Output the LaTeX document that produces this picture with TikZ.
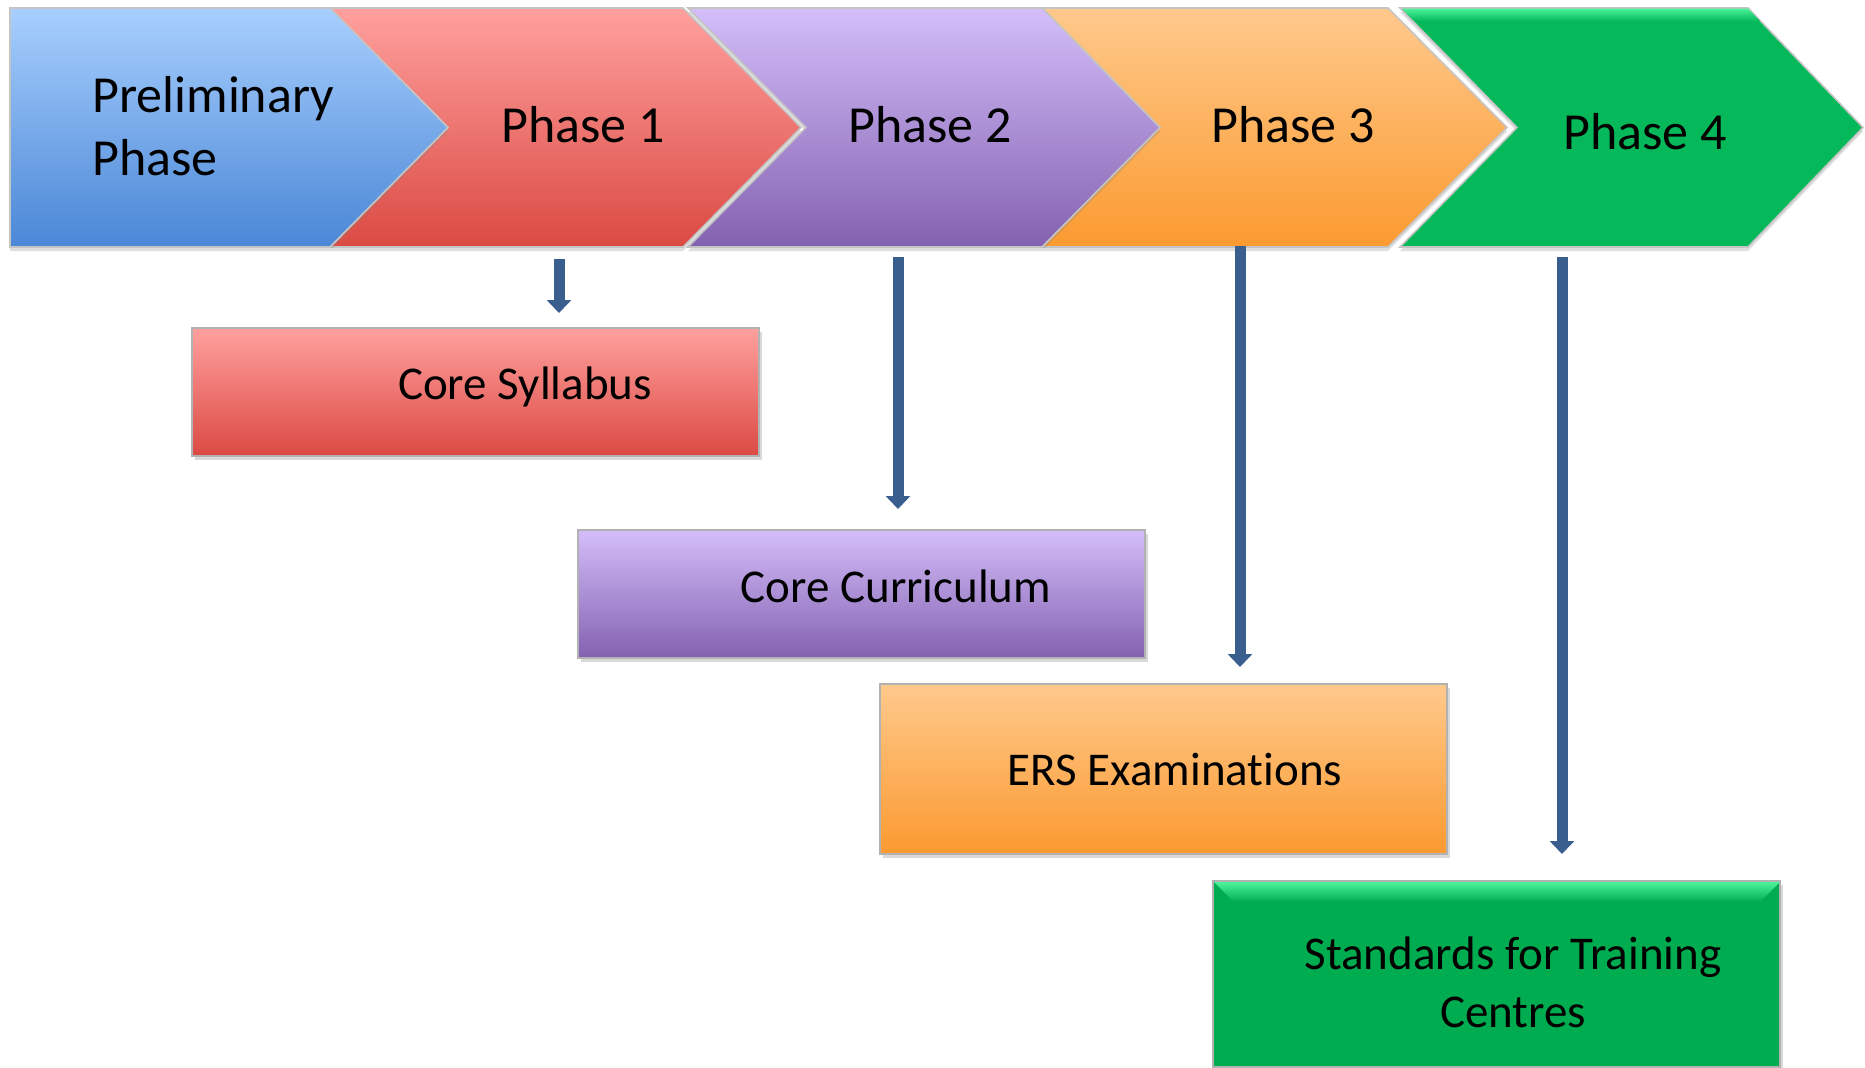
\documentclass[tikz,border=0pt]{standalone}
\usepackage{fontspec}
\setmainfont{Carlito}[Ligatures=NoCommon]
\usetikzlibrary{arrows.meta,shadows}
\definecolor{bluT}{HTML}{A8CFFE}
\definecolor{bluB}{HTML}{4A87D6}
\definecolor{redT}{HTML}{FFA09E}
\definecolor{redB}{HTML}{DB4A43}
\definecolor{purT}{HTML}{D4BEFA}
\definecolor{purB}{HTML}{8361B0}
\definecolor{oraT}{HTML}{FFC98C}
\definecolor{oraB}{HTML}{FB9A30}
\definecolor{grn}{HTML}{05B95A}
\definecolor{grnL}{HTML}{4CF29A}
\definecolor{grnB}{HTML}{00AC50}
\definecolor{arr}{HTML}{3A5F8E}
\definecolor{edge}{HTML}{C4C4C4}
\begin{document}
\begin{tikzpicture}[x=0.5pt,y=-0.5pt,
  chev/.style={draw=edge, line width=0.8pt,
    drop shadow={shadow xshift=0pt, shadow yshift=-2pt, opacity=0.25}},
  box/.style={draw=gray!60, line width=0.6pt, minimum width=283.5pt,
    inner sep=0pt, drop shadow={shadow xshift=1.5pt, shadow yshift=-2pt, opacity=0.3}},
  phtext/.style={font=\fontsize{26}{31.5}\selectfont, inner sep=0pt, text=black},
  bxtext/.style={font=\fontsize{23.5}{29}\selectfont, inner sep=0pt, text=black, align=center},
  conn/.style={draw=arr, line width=5.5pt, -{Triangle[width=12pt,length=6.5pt]}}]
\useasboundingbox (0,0) rectangle (1865,1067);

% chevrons
\path[chev, fill=grn] (1400,8) -- (1748,8) -- (1863,127.5) -- (1748,247) -- (1400,247) -- (1517,127.5) -- cycle;
\shade[top color=grnL, bottom color=grn] (1402,8.5) -- (1748,8.5) -- (1760,21) -- (1415,21) -- cycle;
\path[chev, top color=oraT, bottom color=oraB] (1042,8) -- (1388,8) -- (1507,127.5) -- (1388,247) -- (1042,247) -- (1160,127.5) -- cycle;
\path[chev, top color=purT, bottom color=purB] (688,8) -- (1042,8) -- (1160,127.5) -- (1042,247) -- (688,247) -- (806,127.5) -- cycle;
\path[chev, top color=redT, bottom color=redB] (330,8) -- (683,8) -- (801,127.5) -- (683,247) -- (330,247) -- (448,127.5) -- cycle;
\path[chev, top color=bluT, bottom color=bluB] (10,8) -- (330,8) -- (448,127.5) -- (330,247) -- (10,247) -- cycle;

% chevron labels
\node[phtext, anchor=west, align=left] (pre) at (92,126.5) {Preliminary\\Phase};
\node[phtext] (p1) at (583,124.5) {Phase 1};
\node[phtext] (p2) at (930,124.5) {Phase 2};
\node[phtext] (p3) at (1293,124.5) {Phase 3};
\node[phtext] (p4) at (1645,131.5) {Phase 4};

% boxes
\node[box, minimum height=64pt, top color=redT, bottom color=redB] (bcs) at (475.5,392) {};
\node[box, minimum height=64pt, top color=purT, bottom color=purB] (bcc) at (861.5,594) {};
\node[box, minimum height=85pt, top color=oraT, bottom color=oraB] (bers) at (1163.5,769) {};
\node[box, minimum height=93pt, fill=grnB] (bstc) at (1496.5,974) {};
\shade[top color=grnL, bottom color=grnB] (1214,882) -- (1780,882) -- (1760,902) -- (1234,902) -- cycle;

\node[bxtext] (tcs) at (525,387) {Core Syllabus};
\node[bxtext] (tcc) at (896,586.5) {Core Curriculum};
\node[bxtext] (ters) at (1175,769.5) {ERS Examinations};
\node[bxtext] (tstc) at (1513,982.5) {Standards for Training\\Centres};

% connectors
\coordinate (a1s) at (559,259); \coordinate (a1e) at (559,313);
\coordinate (a2s) at (898,257); \coordinate (a2e) at (898,509);
\coordinate (a3s) at (1240,246); \coordinate (a3e) at (1240,667);
\coordinate (a4s) at (1562,257); \coordinate (a4e) at (1562,854);
\draw[conn] (a1s) -- (a1e);
\draw[conn] (a2s) -- (a2e);
\draw[conn] (a3s) -- (a3e);
\draw[conn] (a4s) -- (a4e);
\end{tikzpicture}
\end{document}
